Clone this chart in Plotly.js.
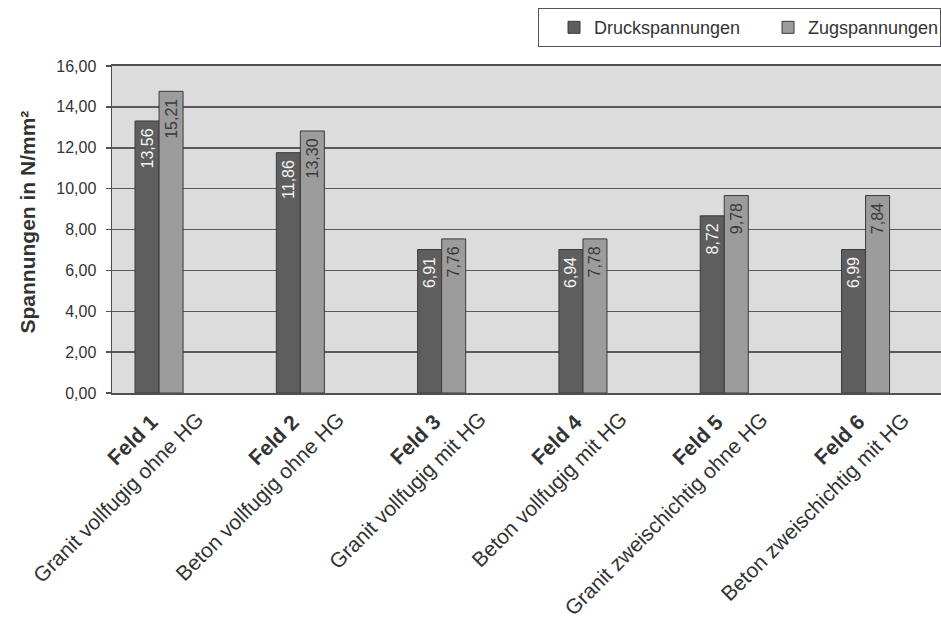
<!DOCTYPE html>
<html>
<head>
<meta charset="utf-8">
<script src="https://cdn.plot.ly/plotly-3.0.1.min.js"></script>
<style>html,body{margin:0;padding:0;background:#fff;}#chart{width:941px;height:617px;}</style>
</head>
<body>
<div id="chart"></div>
<script>
// ---- data ----
const categories = ['Feld 1', 'Feld 2', 'Feld 3', 'Feld 4', 'Feld 5', 'Feld 6'];
const descriptions = ['Granit vollfugig ohne HG', 'Beton vollfugig ohne HG', 'Granit vollfugig mit HG',
  'Beton vollfugig mit HG', 'Granit zweischichtig ohne HG', 'Beton zweischichtig mit HG'];
const seriesNames = ['Druckspannungen', 'Zugspannungen'];
// bar heights as drawn in the picture
const druckHeights = [13.31, 11.76, 7.02, 7.02, 8.67, 7.02];
const zugHeights = [14.76, 12.82, 7.54, 7.54, 9.66, 9.66];
// value labels as printed on the bars
const druckLabels = ['13,56', '11,86', '6,91', '6,94', '8,72', '6,99'];
const zugLabels = ['15,21', '13,30', '7,76', '7,78', '9,78', '7,84'];
const yTickVals = [0, 2, 4, 6, 8, 10, 12, 14, 16];
const yTickText = ['0,00', '2,00', '4,00', '6,00', '8,00', '10,00', '12,00', '14,00', '16,00'];
const yTitle = 'Spannungen in N/mm²';

const FONT = 'Liberation Sans, Arial, sans-serif';
const TXT = '#333333';

const traces = [
  {
    type: 'bar', name: seriesNames[0], x: categories, y: druckHeights,
    text: druckLabels.map(t => t + '\u00a0'), textposition: 'inside', insidetextanchor: 'end',
    textangle: -90, constraintext: 'none',
    textfont: {family: FONT, size: 16, color: '#f4f4f4'},
    marker: {color: '#5e5e5e', line: {color: '#3a3a3a', width: 1}},
    legendwidth: 169,
    hoverinfo: 'skip'
  },
  {
    type: 'bar', name: seriesNames[1], x: categories, y: zugHeights,
    text: zugLabels.map(t => t + '\u00a0'), textposition: 'inside', insidetextanchor: 'end',
    textangle: -90, constraintext: 'none',
    textfont: {family: FONT, size: 16, color: '#3a3a3a'},
    marker: {color: '#9c9c9c', line: {color: '#3a3a3a', width: 1}},
    legendwidth: 126,
    hoverinfo: 'skip'
  }
];

const annotations = [];
categories.forEach((c, i) => {
  annotations.push({
    xref: 'x', yref: 'paper', x: c, y: 0, xanchor: 'right', yanchor: 'top',
    xshift: 6, yshift: -14, textangle: -45, showarrow: false,
    text: '<b>' + c + '</b>', font: {family: FONT, size: 21, color: TXT}
  });
  annotations.push({
    xref: 'x', yref: 'paper', x: c, y: 0, xanchor: 'right', yanchor: 'top',
    xshift: 51, yshift: -12, textangle: -45, showarrow: false,
    text: descriptions[i], font: {family: FONT, size: 21, color: TXT}
  });
});
// y-axis title
annotations.push({
  xref: 'paper', yref: 'paper', x: 0, y: 0.5, xanchor: 'center', yanchor: 'middle',
  xshift: -85, yshift: 7, textangle: -90, showarrow: false,
  text: '<b>' + yTitle + '</b>', font: {family: FONT, size: 21, color: TXT}
});

const layout = {
  width: 941, height: 617,
  margin: {l: 112, r: 0, t: 66, b: 224, pad: 0},
  paper_bgcolor: '#ffffff', plot_bgcolor: '#dcdcdd',
  font: {family: FONT, color: TXT},
  separators: ',.',
  barmode: 'group', bargap: 0.66, bargroupgap: 0,
  showlegend: true,
  legend: {
    orientation: 'h', x: 1, xanchor: 'right', y: 1.177, yanchor: 'top',
    bgcolor: '#ffffff', bordercolor: '#555555', borderwidth: 1,
    font: {family: FONT, size: 18, color: TXT}, itemclick: false,
    title: {text: '\u00a0', side: 'left', font: {family: FONT, size: 18}}
  },
  xaxis: {
    type: 'category', range: [-0.333, 5.534], showticklabels: false, ticks: '',
    showgrid: false, showline: true, linecolor: '#505050', linewidth: 2, mirror: true,
    zeroline: false, fixedrange: true
  },
  yaxis: {
    range: [0, 16], tickvals: yTickVals, ticktext: yTickText,
    ticks: 'outside', ticklen: 5, tickcolor: '#505050', tickwidth: 1.5,
    tickfont: {family: FONT, size: 16, color: TXT}, ticklabelstandoff: 6,
    showgrid: true, gridcolor: '#595959', gridwidth: 1.5,
    showline: true, linecolor: '#505050', linewidth: 1.5,
    zeroline: false, fixedrange: true
  },
  annotations: annotations
};

Plotly.newPlot('chart', traces, layout, {displayModeBar: false, staticPlot: true});
</script>
</body>
</html>
